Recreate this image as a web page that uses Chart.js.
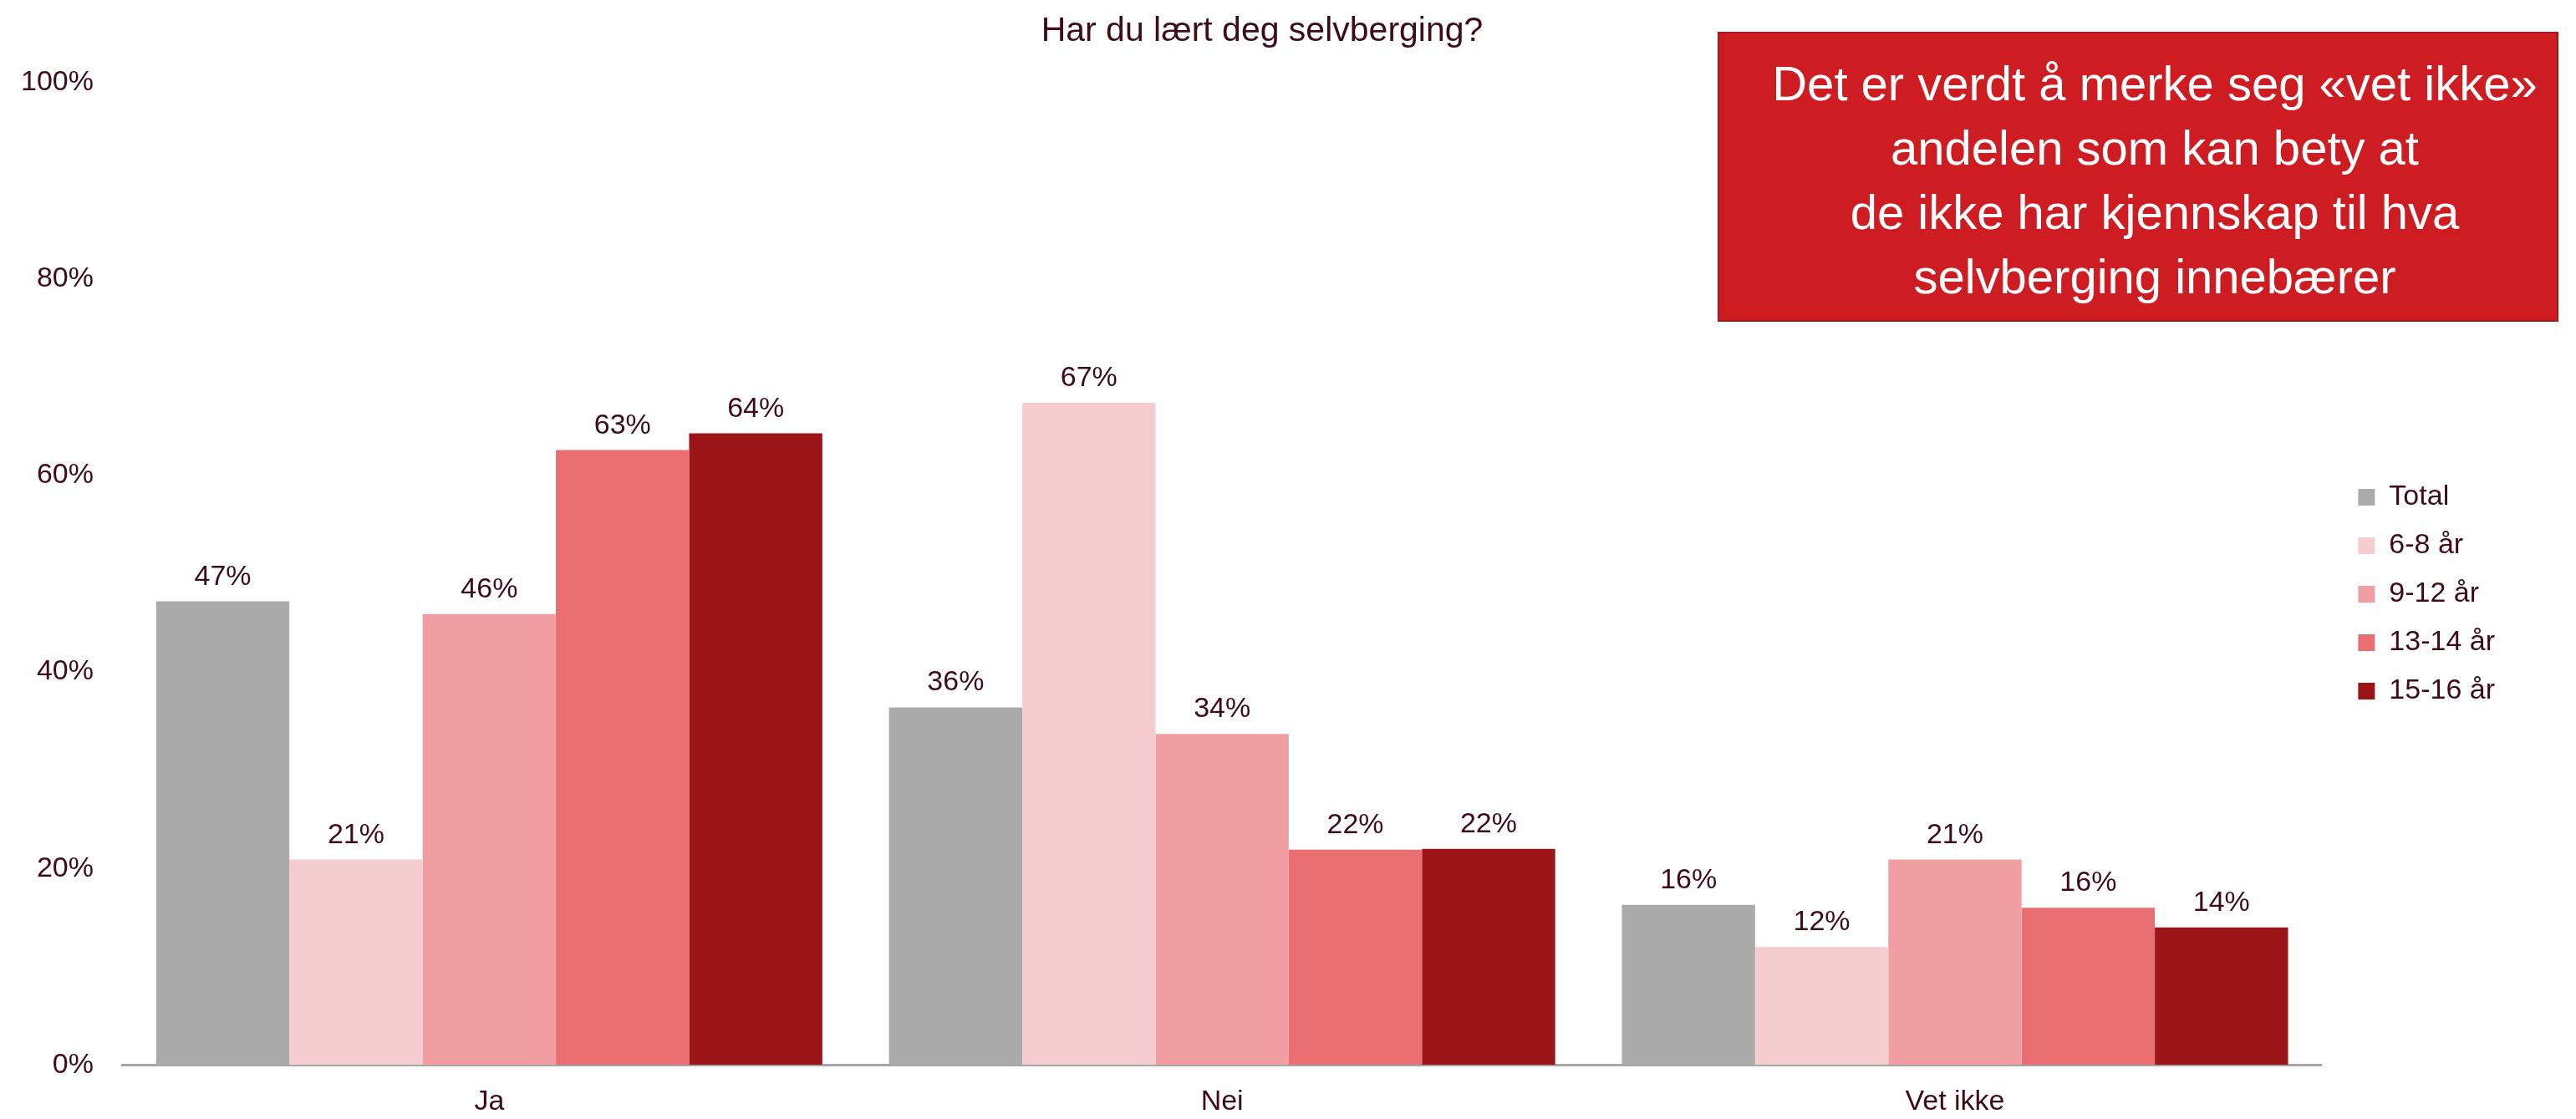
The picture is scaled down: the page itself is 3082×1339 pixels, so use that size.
<!DOCTYPE html>
<html lang="no">
<head>
<meta charset="utf-8">
<title>Har du lært deg selvberging?</title>
<script src="https://cdn.jsdelivr.net/npm/chart.js@4.4.1/dist/chart.umd.min.js"></script>
<style>
  html, body { margin: 0; padding: 0; background: #fff; }
  #wrap { position: relative; width: 3082px; height: 1339px; overflow: hidden; font-family: "Liberation Sans", Arial, sans-serif; }
  #chart { position: absolute; left: 0; top: 0; }
  #title { position: absolute; top: 15px; left: 1510px; transform: translateX(-50%); font-size: 41px; line-height: 41px; color: #3d0c17; white-space: nowrap; }
  #note { position: absolute; left: 2055px; top: 38px; width: 1006px; height: 347px; box-sizing: border-box;
          background: #ce1d22; border: 2px solid #a3181c; color: #fff; font-size: 58px; line-height: 77px;
          text-align: center; padding: 21px 0 0 40px; }
</style>
</head>
<body>
<div id="wrap">
  <canvas id="chart" width="3082" height="1339"></canvas>
  <div id="title">Har du lært deg selvberging?</div>
  <div id="note">Det er verdt å merke seg «vet ikke»<br>andelen som kan bety at<br>de ikke har kjennskap til hva<br>selvberging innebærer</div>
</div>
<script>
const categories = ['Ja', 'Nei', 'Vet ikke'];
const groups = ['Total', '6-8 år', '9-12 år', '13-14 år', '15-16 år'];

// andel per svaralternativ, i prosent
const total     = [47.2, 36.4, 16.3];
const age6to8   = [20.9, 67.4, 12.0];
const age9to12  = [45.9, 33.7, 20.9];
const age13to14 = [62.6, 21.9, 16.0];
const age15to16 = [64.3, 22.0, 14.0];

const yTicks = [0, 20, 40, 60, 80, 100];

const groupColors = ['#ababab', '#f6cdcf', '#f09ea1', '#eb6f72', '#9b1518'];
const textColor = '#3d0c17';
const fontFamily = '"Liberation Sans", Arial, sans-serif';

const series = [total, age6to8, age9to12, age13to14, age15to16];

// prosenttall over hver søyle
const barLabels = {
    id: 'barLabels',
    afterDatasetsDraw(chart) {
        const ctx = chart.ctx;
        ctx.save();
        ctx.font = '34px ' + fontFamily;
        ctx.fillStyle = textColor;
        ctx.textAlign = 'center';
        ctx.textBaseline = 'alphabetic';
        chart.data.datasets.forEach((ds, i) => {
            chart.getDatasetMeta(i).data.forEach((bar, j) => {
                ctx.fillText(Math.round(ds.data[j]) + '%', bar.x, bar.y - 20);
            });
        });
        ctx.restore();
    }
};

const ctx = document.getElementById('chart').getContext('2d');

new Chart(ctx, {
    type: 'bar',
    data: {
        labels: categories,
        datasets: series.map((values, i) => ({
            label: groups[i],
            data: values,
            backgroundColor: groupColors[i],
            borderWidth: 0,
            categoryPercentage: 0.909,
            barPercentage: 1.0
        }))
    },
    options: {
        responsive: false,
        animation: false,
        devicePixelRatio: 1,
        layout: {
            padding: { left: 25, right: 87, top: 99, bottom: 0 }
        },
        plugins: {
            legend: {
                position: 'right',
                align: 'start',
                // usynlig tittel skyver forklaringen ned
                title: {
                    display: true,
                    text: ' ',
                    font: { size: 10 },
                    padding: { top: 443, bottom: 0 }
                },
                labels: {
                    boxWidth: 20,
                    boxHeight: 20,
                    padding: 24,
                    color: textColor,
                    font: { family: fontFamily, size: 34 }
                }
            },
            tooltip: { enabled: false }
        },
        scales: {
            x: {
                grid: { display: false, drawTicks: false },
                border: { display: true, color: '#a6a6a6', width: 3 },
                ticks: {
                    color: textColor,
                    padding: 24,
                    font: { family: fontFamily, size: 34 }
                },
                // fit() regner padding dobbelt
                afterFit: scale => { scale.height -= 24; }
            },
            y: {
                min: 0,
                max: 100,
                grid: { display: false, drawTicks: false },
                border: { display: false },
                afterBuildTicks: scale => {
                    scale.ticks = yTicks.map(v => ({ value: v }));
                },
                ticks: {
                    color: textColor,
                    padding: 35,
                    font: { family: fontFamily, size: 34 },
                    callback: v => v + '%'
                },
                afterFit: scale => { scale.width -= 35; }
            },
            // tom akse som gir luft mellom plottet og forklaringen
            gap: {
                type: 'linear',
                axis: 'y',
                position: 'right',
                display: true,
                grid: { display: false, drawTicks: false },
                border: { display: false },
                ticks: { display: false },
                afterFit: scale => { scale.width = 20; }
            }
        }
    },
    plugins: [barLabels]
});
</script>
</body>
</html>
